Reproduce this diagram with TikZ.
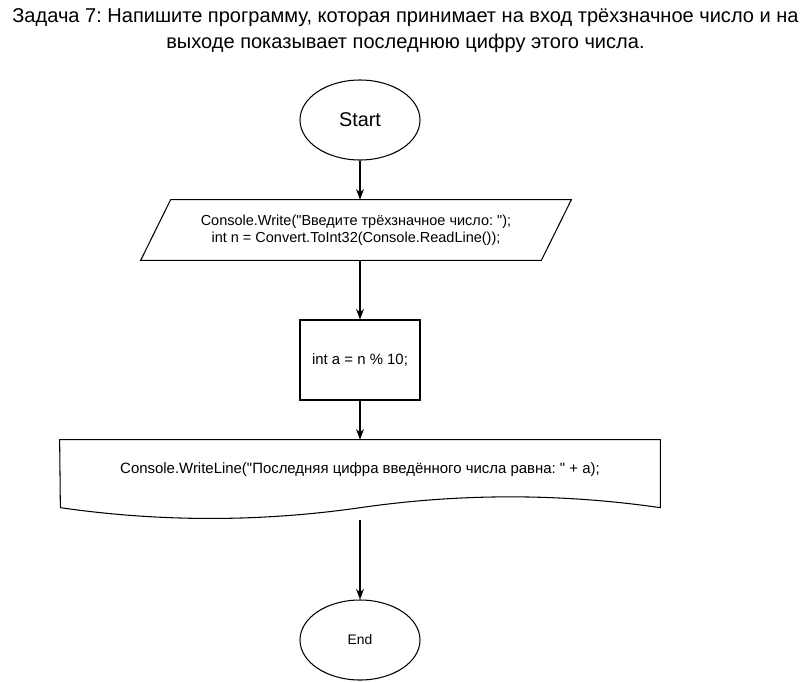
\documentclass[tikz,border=0pt]{standalone}
\usepackage{fontspec}
\setmainfont{Liberation Sans}[Ligatures=TeXOff]
\usepackage{tikz}
\usetikzlibrary{positioning,calc,shapes.geometric,arrows.meta}
\frenchspacing

\begin{document}
\begin{tikzpicture}[
  termbox/.style={draw, ellipse, line width=0.6pt, minimum width=2.4cm, minimum height=1.6cm, inner sep=0pt},
  iobox/.style={rectangle, minimum width=8cm, minimum height=1.2cm, inner sep=0pt, font=\fontsize{8.25}{9.8}\selectfont, align=center},
  procbox/.style={draw, rectangle, line width=0.6pt, minimum width=2.4cm, minimum height=1.6cm, inner sep=0pt, font=\fontsize{8.5}{10}\selectfont},
  docbox/.style={rectangle, minimum width=12cm, minimum height=1.2cm, inner sep=0pt, font=\fontsize{8.5}{10}\selectfont},
  parrow/.style={-{Stealth[length=6pt,width=4.5pt]}, line width=0.6pt},
]
\useasboundingbox (0,0) rectangle (16.22,-13.62);

% Task text at top
\node[font=\fontsize{11.4}{14.7}\selectfont, align=center] (task) at (8.11,-0.62)
  {Задача 7: Напишите программу, которая принимает на вход трёхзначное число и на\\
   выходе показывает последнюю цифру этого числа.};

% Flowchart blocks
\node[termbox, font=\fontsize{11.3}{13}\selectfont] (start) at (7.2,-2.4) {Start};
\node[iobox] (input) at (7.12,-4.6)
  {Console.Write("Введите трёхзначное число: ");\\
   int n = Convert.ToInt32(Console.ReadLine());};
\node[procbox] (calc) at (7.2,-7.2) {int a = n \% 10;};
\node[docbox] (output) at (7.2,-9.4)
  {Console.WriteLine("Последняя цифра введённого числа равна: " + a);};
\node[termbox, font=\fontsize{7.9}{9.6}\selectfont] (end) at (7.2,-12.8) {End};

% Slanted outline of the input block
\draw[line width=0.6pt] ($(input.north west)+(0.3,0)$) -- ($(input.north east)+(0.3,0)$)
  -- ($(input.south east)+(-0.3,0)$) -- ($(input.south west)+(-0.3,0)$) -- cycle;

% Wavy outline of the output block
\draw[line width=0.6pt] (output.north west) -- (output.north east) -- ++(0,-1.36)
  .. controls +(-2,0.288) and +(2,0.288) .. ++(-6,0)
  .. controls +(-2,-0.288) and +(2,-0.288) .. ++(-6,0) -- cycle;
\coordinate (outbot) at ($(output.south)+(0,-0.4)$);

% Arrows
\draw[parrow] (start.south) -- (start.south |- input.north);
\draw[parrow] (calc.north |- input.south) -- (calc.north);
\draw[parrow] (calc.south) -- (calc.south |- output.north);
\draw[parrow] (outbot) -- (end.north);
\end{tikzpicture}
\end{document}
